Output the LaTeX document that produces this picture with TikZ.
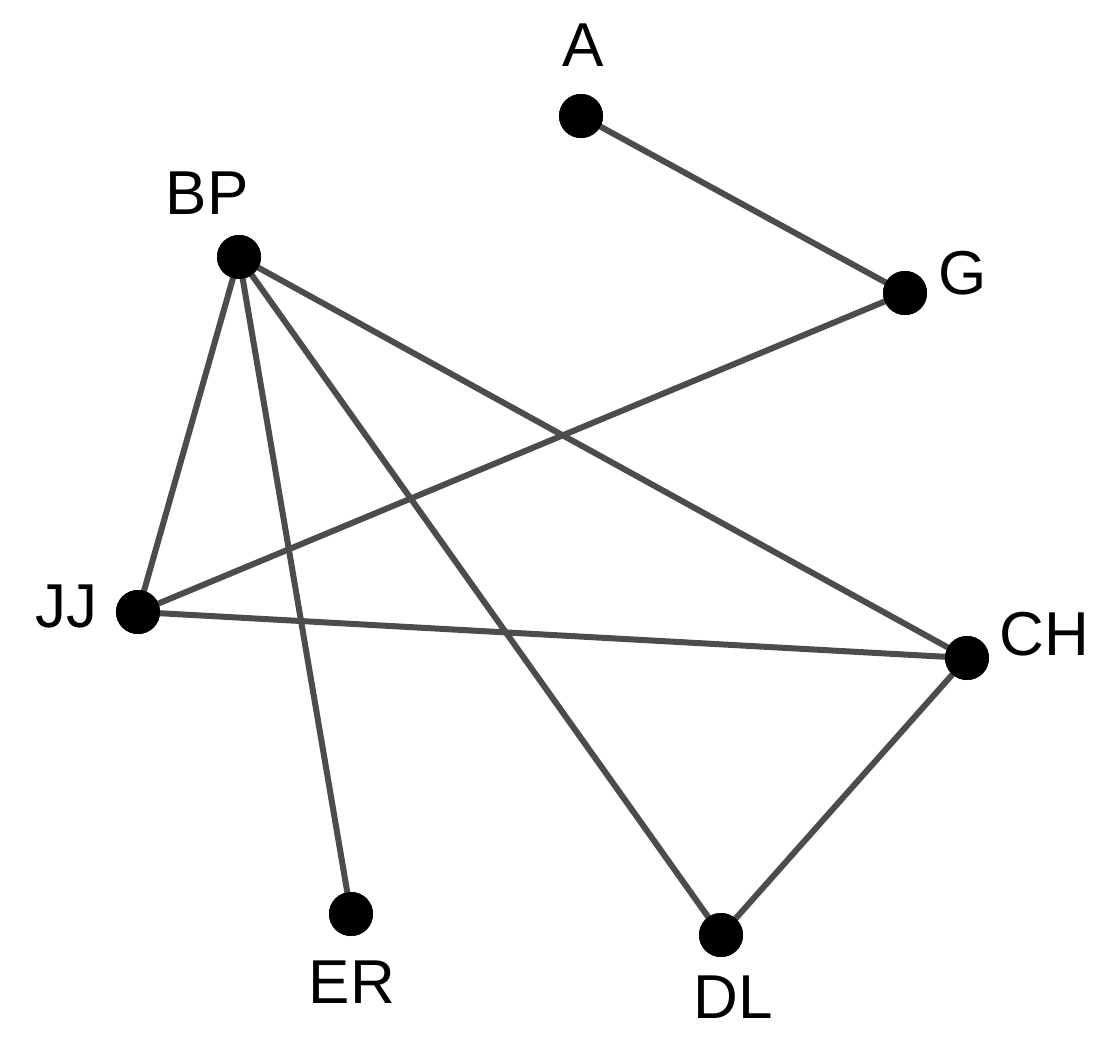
\documentclass[tikz,border=0pt]{standalone}
\usepackage{fontspec}
\setmainfont{Liberation Sans}
\begin{document}
\begin{tikzpicture}[x=0.5pt,y=-0.5pt,
  dot/.style={circle,fill=black,inner sep=0pt,minimum size=22pt},
  lbl/.style={font=\fontsize{31}{37}\selectfont,inner sep=0pt},
  edge/.style={draw=black!70,line width=3pt}]
\useasboundingbox (0,0) rectangle (1114,1044);
\node[dot] (A) at (581,116) {};
\node[dot] (G) at (905,293) {};
\node[dot] (BP) at (239,257) {};
\node[dot] (JJ) at (138,612) {};
\node[dot] (CH) at (967,658) {};
\node[dot] (ER) at (351,914) {};
\node[dot] (DL) at (721,935) {};
\node[lbl] (lA) at (583,45) {A};
\node[lbl] (lG) at (963,273) {G};
\node[lbl] (lBP) at (207,193) {BP};
\node[lbl] (lJJ) at (66,606) {JJ};
\node[lbl] (lCH) at (1044,634) {CH};
\node[lbl] (lER) at (352,982) {ER};
\node[lbl] (lDL) at (733,997) {DL};
\draw[edge] (A.center) -- (G.center);
\draw[edge] (G.center) -- (JJ.center);
\draw[edge] (BP.center) -- (JJ.center);
\draw[edge] (BP.center) -- (ER.center);
\draw[edge] (BP.center) -- (DL.center);
\draw[edge] (BP.center) -- (CH.center);
\draw[edge] (JJ.center) -- (CH.center);
\draw[edge] (CH.center) -- (DL.center);
\foreach \n in {A,G,BP,JJ,CH,ER,DL} \fill (\n) circle (11pt);
\end{tikzpicture}
\end{document}
